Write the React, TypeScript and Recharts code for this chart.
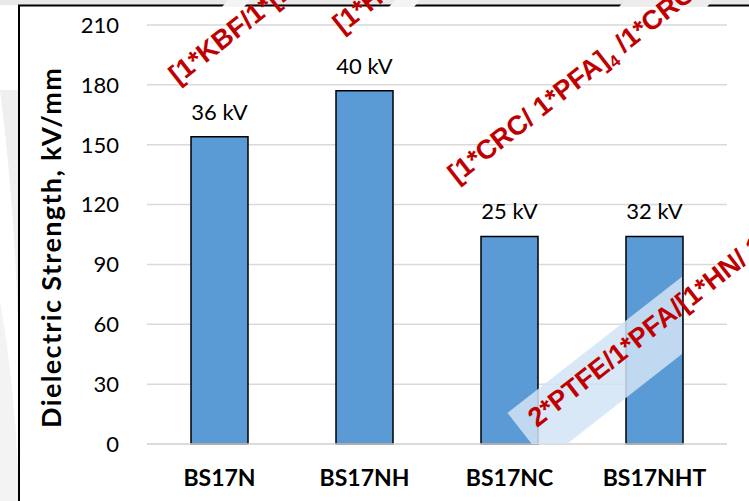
import React from 'react';
import { BarChart, Bar, XAxis, YAxis, CartesianGrid, LabelList } from 'recharts';

const samples = ['BS17N', 'BS17NH', 'BS17NC', 'BS17NHT'];
const strength = [154, 177, 104, 104];
const breakdownLabels = ['36 kV', '40 kV', '25 kV', '32 kV'];
const yTicks = [0, 30, 60, 90, 120, 150, 180, 210];

const data = samples.map((name, i) => ({ name, value: strength[i], label: breakdownLabels[i] }));

const FONT = 'Lato, "Open Sans", sans-serif';
const RED_FONT = '"Liberation Sans", Arial, sans-serif';
const RED = '#c00000';
const ANGLE = -38;

const redText = { fill: RED, fontFamily: RED_FONT, fontWeight: 700, fontSize: 27 } as const;

const App: React.FC = () => {
  return (
    <div style={{ position: 'absolute', left: 0, top: 0, width: 749, height: 501, background: '#fff' }}>
      {/* slide background + frame */}
      <svg width={749} height={501} style={{ position: 'absolute', left: 0, top: 0 }}>
        <rect x={0} y={0} width={749} height={5} fill="#e9e9e9" />
        <path d="M0 90 Q 14 200 18 320 L 18 90 Z" fill="#efefef" />
        <path d="M0 300 Q 14 380 18 470 L 18 501 L 0 501 Z" fill="#f3f3f3" />
        <line x1={18} y1={5.5} x2={749} y2={5.5} stroke="#000" strokeWidth={2} />
        <polygon points="228,0 250,0 244,7 222,7" fill="#f4f4f4" />
        <polygon points="395,0 420,0 414,7 389,7" fill="#f4f4f4" />
        <polygon points="625,0 713,0 707,7 619,7" fill="#ededed" />
        <line x1={19} y1={5} x2={19} y2={501} stroke="#000" strokeWidth={2} />
      </svg>

      <div style={{ position: 'absolute', left: 0, top: 0 }}>
        <BarChart width={749} height={501} data={data} margin={{ top: 25, right: 22, bottom: 17, left: 0 }}>
          <CartesianGrid vertical={false} stroke="#d9d9d9" strokeWidth={1.5} />
          <XAxis
            dataKey="name"
            height={40}
            axisLine={{ stroke: '#d9d9d9', strokeWidth: 1.5 }}
            tickLine={false}
            tickMargin={20}
            tick={{ fill: '#000', fontSize: 23, fontWeight: 700, fontFamily: FONT }}
          />
          <YAxis
            width={147}
            domain={[0, 210]}
            ticks={yTicks}
            axisLine={false}
            tickLine={false}
            tickMargin={22}
            tick={{ fill: '#000', fontSize: 22, fontFamily: FONT }}
          />
          <Bar dataKey="value" fill="#5b9bd5" stroke="#000" strokeWidth={1.5} barSize={57} isAnimationActive={false}>
            <LabelList dataKey="label" position="top" offset={17} fill="#000" fontSize={22} fontFamily={FONT} />
          </Bar>
        </BarChart>
      </div>

      {/* axis title and stamped layer labels */}
      <svg width={749} height={501} style={{ position: 'absolute', left: 0, top: 0, pointerEvents: 'none' }}>
        <defs>
          <clipPath id="bandClip">
            <rect x={0} y={0} width={682} height={444} />
          </clipPath>
        </defs>
        <text
          transform="translate(61,248) rotate(-90)"
          textAnchor="middle"
          fontFamily={FONT}
          fontWeight={700}
          fontSize={27}
          textLength={360}
          lengthAdjust="spacing"
          fill="#000"
        >
          Dielectric Strength, kV/mm
        </text>

        <g transform={`translate(178,85) rotate(${ANGLE})`}>
          <text {...redText}>[1*KBF/1*[1*HN/1*PFA]</text>
        </g>
        <g transform={`translate(342,34) rotate(${ANGLE})`}>
          <text {...redText}>[1*HN/1*PFA]</text>
        </g>
        <g transform={`translate(457,184) rotate(${ANGLE})`}>
          <text {...redText}>
            [1*CRC/ 1*PFA]
            <tspan fontSize={17} dy={6}>4</tspan>
            <tspan dy={-6}> /1*CRC/1*PFA]</tspan>
          </text>
        </g>
        <g clipPath="url(#bandClip)">
          <g transform={`translate(537,428) rotate(${ANGLE})`}>
            <rect x={-14} y={-30} width={420} height={61} fill="#d2e4f4" opacity={0.85} />
          </g>
        </g>
        <g transform={`translate(537,428) rotate(${ANGLE})`}>
          <text {...redText}>2*PTFE/1*PFA/[1*HN/ 1*PFA]</text>
        </g>
      </svg>
    </div>
  );
};

export default App;
